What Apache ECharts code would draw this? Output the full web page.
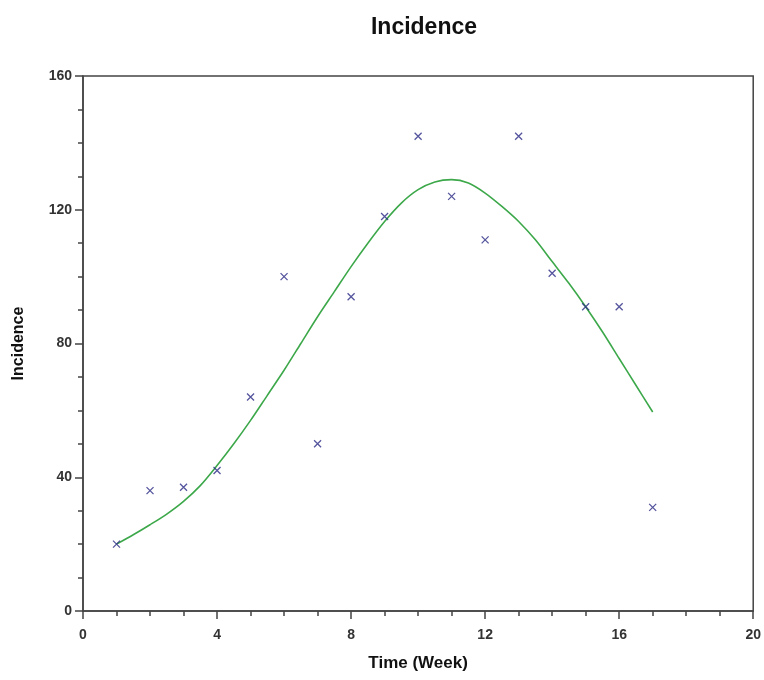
<!DOCTYPE html>
<html>
<head>
<meta charset="utf-8">
<script src="https://cdn.jsdelivr.net/npm/echarts@6/dist/echarts.min.js"></script>
<style>
  html, body { margin: 0; padding: 0; background: #fff; }
  #main { width: 764px; height: 680px; }
</style>
</head>
<body>
<div id="main"></div>
<script>
// observed incidence per week
var weeks = [1, 2, 3, 4, 5, 6, 7, 8, 9, 10, 11, 12, 13, 14, 15, 16, 17];
var incidence = [20, 36, 37, 42, 64, 100, 50, 94, 118, 142, 124, 111, 142, 101, 91, 91, 31];
// fitted curve
var fitWeeks = [1, 1.5, 2, 2.5, 3, 3.5, 4, 4.5, 5, 5.5, 6, 6.5, 7, 7.5, 8, 8.5, 9,
  9.5, 10, 10.5, 11, 11.5, 12, 12.5, 13, 13.5, 14, 14.5, 15, 15.5, 16, 16.5, 17];
var fitValues = [20, 22.8, 25.8, 29, 32.8, 37.5, 43.5, 50, 57, 64.5, 72, 80, 88, 95.5, 103, 110, 116.5,
  122, 126, 128.3, 129, 128, 125, 121, 116.5, 111, 104.5, 98, 91, 83.5, 75.5, 67.5, 59.5];

var xTicks = [0, 4, 8, 12, 16, 20];
var yTicks = [0, 40, 80, 120, 160];

var chart = echarts.init(document.getElementById('main'));

var pts = [];
for (var i = 0; i < weeks.length; i++) pts.push([weeks[i], incidence[i]]);
var fit = [];
for (var j = 0; j < fitWeeks.length; j++) fit.push([fitWeeks[j], fitValues[j]]);

var axisTxt = { color: '#333', fontSize: 14, fontWeight: 'bold', fontFamily: 'Liberation Sans' };

var option = {
  animation: false,
  backgroundColor: '#fff',
  title: {
    text: 'Incidence',
    left: 419,
    top: 11,
    textAlign: 'center',
    textStyle: { fontSize: 23, fontWeight: 'bold', color: '#111', fontFamily: 'Liberation Sans' }
  },
  grid: {
    left: 83, right: 10, top: 76, bottom: 69,
    show: true, borderColor: '#444', borderWidth: 1.5, backgroundColor: 'transparent'
  },
  xAxis: {
    type: 'value',
    min: xTicks[0], max: xTicks[xTicks.length - 1], interval: 4,
    name: 'Time (Week)',
    nameLocation: 'middle',
    nameGap: 44,
    nameTextStyle: { fontSize: 17, fontWeight: 'bold', color: '#111', fontFamily: 'Liberation Sans' },
    axisLine: { lineStyle: { color: '#444', width: 1.5 } },
    axisTick: { length: 8, lineStyle: { color: '#444', width: 1.5 } },
    minorTick: { show: true, splitNumber: 4, length: 5, lineStyle: { color: '#444', width: 1.5 } },
    splitLine: { show: false },
    axisLabel: Object.assign({ margin: 17 }, axisTxt)
  },
  yAxis: {
    type: 'value',
    min: yTicks[0], max: yTicks[yTicks.length - 1], interval: 40,
    name: 'Incidence',
    nameLocation: 'middle',
    nameGap: 56,
    nameTextStyle: { fontSize: 16, fontWeight: 'bold', color: '#111', fontFamily: 'Liberation Sans' },
    axisLine: { show: true, lineStyle: { color: '#444', width: 1.5 } },
    axisTick: { show: true, length: 8, lineStyle: { color: '#444', width: 1.5 } },
    minorTick: { show: true, splitNumber: 4, length: 5, lineStyle: { color: '#444', width: 1.5 } },
    splitLine: { show: false },
    axisLabel: Object.assign({ margin: 11 }, axisTxt)
  },
  series: [
    {
      type: 'line',
      data: fit,
      smooth: 0.3,
      showSymbol: false,
      lineStyle: { color: '#3ca84a', width: 1.6 },
      z: 2
    },
    {
      type: 'scatter',
      data: pts,
      symbol: 'path://M0,0L10,10M10,0L0,10',
      symbolSize: 7,
      itemStyle: { color: 'none', borderColor: '#2b2b86', borderWidth: 1.3 },
      z: 3
    }
  ]
};
chart.setOption(option);
</script>
</body>
</html>
